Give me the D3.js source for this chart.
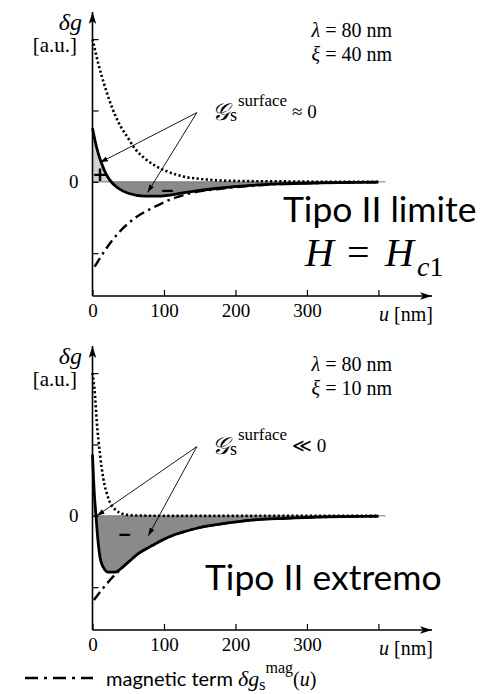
<!DOCTYPE html>
<html>
<head>
<meta charset="utf-8">
<script src="https://cdn.jsdelivr.net/npm/d3@7"></script>
<style>
  body { margin: 0; background: #fff; }
  svg { display: block; }
  .serif { font-family: "Liberation Serif", "DejaVu Serif", serif; }
  .sans { font-family: Lato, "Open Sans", sans-serif; }
</style>
</head>
<body>
<script>
const d3 = window.d3;
const W = 495, H = 694;

// ---- data (u in nm, delta g in arbitrary units) ----
const xTicks = [0, 100, 200, 300, 400];
const yTicks = [-1, 0, 1, 2];

// top panel: lambda = 80 nm, xi = 40 nm
const uCondTop = [0, 8, 17.5, 27, 36, 50, 59, 73, 87, 106, 129, 152, 176, 220, 280, 340, 400];
const condTop  = [2.0, 1.66, 1.33, 1.05, 0.84, 0.61, 0.47, 0.33, 0.23, 0.14, 0.07, 0.04, 0.02, 0.01, 0.005, 0, 0];
const uTotalTop = [0, 3.5, 8, 12.7, 17.5, 24.5, 36, 50, 73, 92, 129, 176, 222, 262, 320, 400];
const totalTop  = [0.75, 0.58, 0.40, 0.26, 0.14, 0.02, -0.09, -0.16, -0.20, -0.20, -0.15, -0.09, -0.05, -0.03, -0.015, -0.005];
const uMagTop = [3, 17.5, 36, 59, 87, 106, 129, 152, 176, 222, 262, 320, 400];
const magTop  = [-1.19, -0.96, -0.72, -0.51, -0.35, -0.26, -0.18, -0.13, -0.10, -0.055, -0.03, -0.015, -0.005];

// bottom panel: lambda = 80 nm, xi = 10 nm
const uCondBot = [0, 3.5, 6, 10.5, 15, 22, 31.5, 45, 60, 100, 200, 400];
const condBot  = [2.0, 1.69, 1.32, 0.86, 0.53, 0.25, 0.09, 0.02, 0.005, 0, 0, 0];
const uTotalBot = [0, 2.6, 4.9, 7.2, 10.5, 15, 22, 31.5, 38.5, 50, 64, 83, 106, 129, 152, 176, 222, 270, 330, 400];
const totalBot  = [0.86, 0.30, 0, -0.30, -0.58, -0.72, -0.79, -0.79, -0.75, -0.65, -0.53, -0.42, -0.30, -0.22, -0.16, -0.12, -0.06, -0.035, -0.015, -0.005];
const uMagBot = [2, 12.8, 24.5, 36, 50, 64, 83, 106, 129, 152, 176, 222, 270, 330, 400];
const magBot  = [-1.18, -1.04, -0.90, -0.78, -0.65, -0.53, -0.42, -0.30, -0.22, -0.16, -0.12, -0.06, -0.035, -0.015, -0.005];

const lambdaValues = ["80 nm", "80 nm"];
const xiValues = ["40 nm", "10 nm"];
const surfaceRel = ["≈ 0", "≪ 0"];
const typeLabels = ["Tipo II limite", "Tipo II extremo"];

const zip = (us, vs) => us.map((u, i) => [u, vs[i]]);
const panels = [
    {dy: 0, cond: zip(uCondTop, condTop), total: zip(uTotalTop, totalTop), mag: zip(uMagTop, magTop),
     plus: [10.5, 0.12], minus: [105, -0.11], arrowTo: [[10.5, 0.27], [77, -0.15]]},
    {dy: 334, cond: zip(uCondBot, condBot), total: zip(uTotalBot, totalBot), mag: zip(uMagBot, magBot),
     plus: null, minus: [45, -0.25], arrowTo: [[6, 0.0], [78, -0.28]]}
];

const svg = d3.select("body").append("svg")
    .attr("width", W)
    .attr("height", H);

const defs = svg.append("defs");
defs.append("marker")
    .attr("id", "axisArrow")
    .attr("markerUnits", "userSpaceOnUse")
    .attr("viewBox", "-12 -4 12 8")
    .attr("refX", 0).attr("refY", 0)
    .attr("markerWidth", 12).attr("markerHeight", 8)
    .attr("orient", "auto")
    .append("path")
    .attr("d", "M-12,-3.8L0,0L-12,3.8L-9,0Z")
    .attr("fill", "#000");
defs.append("marker")
    .attr("id", "noteArrow")
    .attr("markerUnits", "userSpaceOnUse")
    .attr("viewBox", "-8 -3 8 6")
    .attr("refX", 0).attr("refY", 0)
    .attr("markerWidth", 8).attr("markerHeight", 6)
    .attr("orient", "auto")
    .append("path")
    .attr("d", "M-8,-2.6L0,0L-8,2.6Z")
    .attr("fill", "#000");

const x = d3.scaleLinear().domain([0, 475]).range([92.5, 432]);
const uEnd = 410;

panels.forEach((p, i) => {
    const y = d3.scaleLinear().domain([-1.6, 2.38]).range([296 + p.dy, 12 + p.dy]);
    const g = svg.append("g");

    // shaded area between total curve and zero
    const area = d3.area()
        .curve(d3.curveMonotoneX)
        .x(d => x(d[0]))
        .y0(y(0))
        .y1(d => y(d[1]));
    const clipPos = "clipPos" + i, clipNeg = "clipNeg" + i;
    defs.append("clipPath").attr("id", clipPos)
        .append("rect").attr("x", 0).attr("y", 0).attr("width", W).attr("height", y(0));
    defs.append("clipPath").attr("id", clipNeg)
        .append("rect").attr("x", 0).attr("y", y(0)).attr("width", W).attr("height", H);
    g.append("path").datum(p.total)
        .attr("d", area)
        .attr("fill", "#d2d2d2")
        .attr("clip-path", `url(#${clipPos})`);
    g.append("path").datum(p.total)
        .attr("d", area)
        .attr("fill", "#8a8a8a")
        .attr("clip-path", `url(#${clipNeg})`);

    // zero line
    g.append("line")
        .attr("x1", x(0)).attr("x2", x(uEnd))
        .attr("y1", y(0)).attr("y2", y(0))
        .attr("stroke", "#777")
        .attr("stroke-width", 1);

    const line = d3.line()
        .curve(d3.curveMonotoneX)
        .x(d => x(d[0]))
        .y(d => y(d[1]));

    g.append("path").datum(p.cond)
        .attr("d", line)
        .attr("fill", "none")
        .attr("stroke", "#000")
        .attr("stroke-width", 2.6)
        .attr("stroke-dasharray", "2.2,2.4");
    g.append("path").datum(p.mag)
        .attr("d", line)
        .attr("fill", "none")
        .attr("stroke", "#000")
        .attr("stroke-width", 2.4)
        .attr("stroke-dasharray", "10,4.5,2.5,4.5");
    g.append("path").datum(p.total)
        .attr("d", line)
        .attr("fill", "none")
        .attr("stroke", "#000")
        .attr("stroke-width", 2.8);

    // axes
    const xAxis = d3.axisBottom(x)
        .tickValues(xTicks)
        .tickSizeInner(-6)
        .tickSizeOuter(0)
        .tickPadding(8)
        .tickFormat(d => d === 400 ? "" : d);
    g.append("g")
        .attr("transform", `translate(0,${y(-1.6)})`)
        .call(xAxis)
        .call(a => a.select(".domain").remove())
        .call(a => a.selectAll("line").attr("stroke-width", 1.2))
        .call(a => a.selectAll("text")
            .attr("class", "serif")
            .attr("font-size", 19)
            .attr("fill", "#000"));

    const yAxis = d3.axisLeft(y)
        .tickValues(yTicks)
        .tickSizeInner(-6)
        .tickSizeOuter(0)
        .tickPadding(14)
        .tickFormat(d => d === 0 ? "0" : "");
    g.append("g")
        .attr("transform", `translate(${x(0)},0)`)
        .call(yAxis)
        .call(a => a.select(".domain").remove())
        .call(a => a.selectAll("line").attr("stroke-width", 1.2))
        .call(a => a.selectAll("text")
            .attr("class", "serif")
            .attr("font-size", 19)
            .attr("fill", "#000"));

    g.append("line")
        .attr("x1", x(0)).attr("x2", x(475))
        .attr("y1", y(-1.6)).attr("y2", y(-1.6))
        .attr("stroke", "#000").attr("stroke-width", 1.6)
        .attr("marker-end", "url(#axisArrow)");
    g.append("line")
        .attr("x1", x(0)).attr("x2", x(0))
        .attr("y1", y(-1.6)).attr("y2", y(2.38))
        .attr("stroke", "#000").attr("stroke-width", 1.6)
        .attr("marker-end", "url(#axisArrow)");

    // axis titles
    g.append("text")
        .attr("class", "serif")
        .attr("x", 82).attr("y", p.dy + 30)
        .attr("text-anchor", "end")
        .attr("font-size", 24)
        .attr("font-style", "italic")
        .text("δg");
    g.append("text")
        .attr("class", "serif")
        .attr("x", 77).attr("y", p.dy + 52)
        .attr("text-anchor", "end")
        .attr("font-size", 21)
        .text("[a.u.]");
    const ut = g.append("text")
        .attr("class", "serif")
        .attr("x", 433).attr("y", y(-1.6) + 25)
        .attr("text-anchor", "end")
        .attr("font-size", 20);
    ut.append("tspan").attr("font-style", "italic").text("u");
    ut.append("tspan").text(" [nm]");

    // parameters
    const lt = g.append("text")
        .attr("class", "serif")
        .attr("x", 392).attr("y", p.dy + 37)
        .attr("text-anchor", "end")
        .attr("font-size", 20);
    lt.append("tspan").attr("font-style", "italic").text("λ");
    lt.append("tspan").text(" = " + lambdaValues[i]);
    const xt = g.append("text")
        .attr("class", "serif")
        .attr("x", 392).attr("y", p.dy + 61)
        .attr("text-anchor", "end")
        .attr("font-size", 20);
    xt.append("tspan").attr("font-style", "italic").text("ξ");
    xt.append("tspan").text(" = " + xiValues[i]);

    // surface energy annotation
    const from = [146, 0.97];
    p.arrowTo.forEach(t => {
        g.append("line")
            .attr("x1", x(from[0])).attr("y1", y(from[1]))
            .attr("x2", x(t[0])).attr("y2", y(t[1]))
            .attr("stroke", "#000")
            .attr("stroke-width", 0.9)
            .attr("marker-end", "url(#noteArrow)");
    });
    const gs = g.append("text")
        .attr("class", "serif")
        .attr("x", 212).attr("y", p.dy + 120)
        .attr("font-size", 24);
    gs.append("tspan").attr("font-style", "italic").text("𝒢");
    gs.append("tspan").attr("x", 230).attr("dy", 1).attr("font-size", 18).text("s");
    gs.append("tspan").attr("x", 238).attr("dy", -15).attr("font-size", 17).text("surface");
    gs.append("tspan").attr("x", 292).attr("dy", 12).attr("font-size", 19).text(surfaceRel[i]);

    if (p.plus) {
        g.append("text")
            .attr("class", "sans")
            .attr("x", x(p.plus[0])).attr("y", y(p.plus[1]))
            .attr("text-anchor", "middle")
            .attr("dominant-baseline", "central")
            .attr("font-size", 24)
            .attr("font-weight", "bold")
            .text("+");
    }
    g.append("text")
        .attr("class", "sans")
        .attr("x", x(p.minus[0])).attr("y", y(p.minus[1]))
        .attr("text-anchor", "middle")
        .attr("dominant-baseline", "central")
        .attr("font-size", 24)
        .attr("font-weight", "bold")
        .text("−");

    // slide-style label
    g.append("text")
        .attr("class", "sans")
        .attr("x", i === 0 ? 283 : 205)
        .attr("y", i === 0 ? 222 : 590)
        .attr("font-size", 35.5)
        .text(typeLabels[i]);
});

// H = Hc1
const hEq = svg.append("g").attr("class", "serif").attr("font-size", 40);
hEq.append("text").attr("x", 305).attr("y", 266).attr("font-style", "italic").text("H");
hEq.append("text").attr("x", 347).attr("y", 266).text("=");
hEq.append("text").attr("x", 385).attr("y", 266).attr("font-style", "italic").text("H");
hEq.append("text").attr("x", 417).attr("y", 276).attr("font-size", 28)
    .call(t => t.append("tspan").attr("font-style", "italic").text("c"))
    .call(t => t.append("tspan").text("1"));

// legend
svg.append("line")
    .attr("x1", 25).attr("x2", 93)
    .attr("y1", 678).attr("y2", 678)
    .attr("stroke", "#000")
    .attr("stroke-width", 2.4)
    .attr("stroke-dasharray", "13,6,3,6");
svg.append("text")
    .attr("class", "sans")
    .attr("x", 106).attr("y", 686)
    .attr("font-size", 20)
    .text("magnetic term");
const lg = svg.append("text")
    .attr("class", "serif")
    .attr("x", 238).attr("y", 686)
    .attr("font-size", 22);
lg.append("tspan").attr("font-style", "italic").text("δg");
lg.append("tspan").attr("font-size", 16).attr("dy", 4).text("s");
lg.append("tspan").attr("font-size", 16).attr("dy", -17).text("mag");
lg.append("tspan").attr("font-size", 20).attr("dy", 13).text("(");
lg.append("tspan").attr("font-size", 20).attr("font-style", "italic").text("u");
lg.append("tspan").attr("font-size", 20).text(")");
</script>
</body>
</html>
